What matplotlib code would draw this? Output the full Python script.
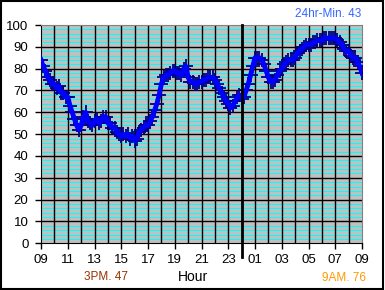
import numpy as np
import matplotlib
matplotlib.use('Agg')
import matplotlib.pyplot as plt
from matplotlib.patches import Rectangle

plt.rcParams['font.family'] = ['Liberation Sans', 'DejaVu Sans']

# readings every 10 minutes, 09:00 -> 09:00 next day
values = [
    84, 81, 79, 76, 75, 73,   # 09
    73, 71, 72, 69, 69, 67,   # 10
    67, 63, 60, 57, 54, 52,   # 11
    54, 58, 60, 56, 55, 54,   # 12
    56, 57, 55, 56, 58, 58,   # 13
    55, 55, 53, 53, 51, 50,   # 14
    49, 50, 49, 50, 48, 49,   # 15
    47, 48, 51, 52, 53, 54,   # 16
    54, 56, 58, 61, 64, 68,   # 17
    73, 76, 77, 77, 78, 79,   # 18
    79, 78, 78, 77, 80, 81,   # 19
    76, 74, 74, 73, 73, 74,   # 20
    74, 75, 75, 76, 76, 76,   # 21
    75, 73, 71, 69, 67, 65,   # 22
    64, 62, 63, 65, 67, 68,   # 23
    66, 67, 70, 73, 77, 81,   # 00
    85, 85, 85, 84, 82, 79,   # 01
    76, 74, 74, 75, 77, 79,   # 02
    80, 82, 83, 84, 84, 84,   # 03
    85, 87, 88, 89, 90, 91,   # 04
    91, 91, 92, 92, 93, 93,   # 05
    93, 94, 94, 94, 94, 94,   # 06
    94, 93, 92, 91, 89, 88,   # 07
    88, 86, 85, 85, 83, 81,   # 08
    78,                       # 09
]
hours = np.arange(len(values)) / 6.0
tick_labels = ['09', '11', '13', '15', '17', '19', '21', '23',
               '01', '03', '05', '07', '09']
min_note = '24hr-Min. 43'
low_note = '3PM. 47'
end_note = '9AM. 76'

fig = plt.figure(figsize=(3.85, 2.90), dpi=100)
ax = fig.add_axes([41 / 385, 1 - 243.3 / 290, 321 / 385, 218.3 / 290])
ax.set_facecolor('#C0C0C0')

ax.set_yticks(np.arange(0, 101, 10))
ax.set_xticks(np.arange(0, 25, 2))
ax.set_xticklabels(tick_labels)
ax.tick_params(which='major', length=4, width=1, color='black',
               labelsize=9.5, pad=5)
ax.tick_params(axis='x', pad=4)

# grid: cyan every 2, black every 10, black vertical every hour
for v in np.arange(2, 100, 2):
    if v % 10:
        ax.axhline(v, color='#00FFFF', lw=0.75, zorder=0.5)
for v in np.arange(10, 100, 10):
    ax.axhline(v, color='black', lw=1, zorder=0.7)
for h in np.arange(1, 24):
    ax.axvline(h, color='black', lw=1, zorder=0.7)

ax.plot(hours, values, ls='none', marker='+', ms=9.5, mew=1.3,
        color='#000080', zorder=3)
ax.plot(hours, values, color='#0000FF', lw=3.5, zorder=4)

ax.plot([15, 15], [-6.3, 100], color='black', lw=2, clip_on=False, zorder=5)

ax.set_xlim(0, 24)
ax.set_ylim(0, 100)
for s in ('top', 'right'):
    ax.spines[s].set_color('#808080')
for s in ('left', 'bottom'):
    ax.spines[s].set_color('black')

fig.text(193 / 385, 1 - 277 / 290, 'Hour', ha='center', va='center', fontsize=10)
fig.text(106 / 385, 1 - 277 / 290, low_note, ha='center', va='center',
         fontsize=8.5, color='#993300')
fig.text(344 / 385, 1 - 278 / 290, end_note, ha='center', va='center',
         fontsize=8.5, color='#FF9900')
fig.text(328 / 385, 1 - 14 / 290, min_note, ha='center', va='center',
         fontsize=8.5, color='#3366FF')

fig.patches.append(Rectangle((0.002, 0.003), 0.994, 0.993, transform=fig.transFigure,
                             fill=False, edgecolor='black', lw=1.5))

fig.savefig('out.png', dpi=100)
